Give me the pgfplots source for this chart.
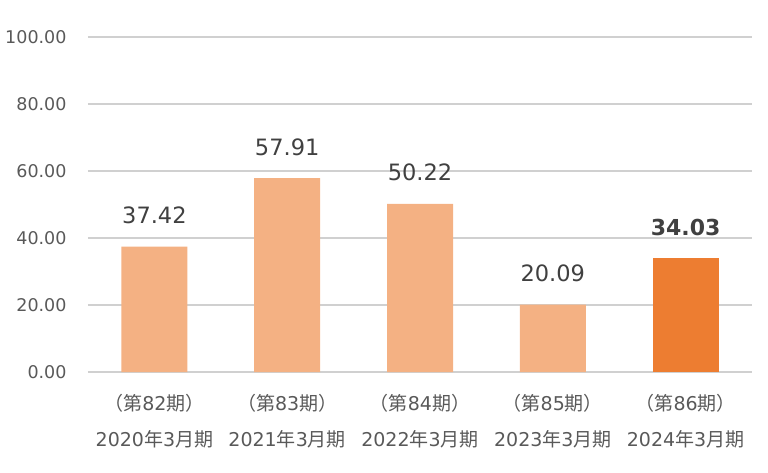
\documentclass[border=0pt]{standalone}
\usepackage{fontspec}
\setmainfont{DejaVu Sans}
\newfontfamily\cjk{Noto Sans CJK JP}
\usepackage{pgfplots}
\pgfplotsset{compat=1.18}
\definecolor{lightbar}{HTML}{F4B183}
\definecolor{darkbar}{HTML}{ED7D31}
\definecolor{gridc}{HTML}{D0D0D0}
\definecolor{txt}{HTML}{595959}
\definecolor{lbl}{HTML}{404040}
\begin{document}
\begin{tikzpicture}
\path[use as bounding box] (-88bp,-101bp) rectangle (680bp,372bp);
\begin{axis}[
  scale only axis,
  width=664bp, height=335bp,
  xmin=-0.5, xmax=4.5,
  ymin=0, ymax=100,
  ytick={0,20,40,60,80,100},
  yticklabels={0.00,20.00,40.00,60.00,80.00,100.00},
  xtick={0,1,2,3,4},
  xticklabels={
    {{\cjk （第}82{\cjk 期）}\\[13bp]2020{\cjk 年}3{\cjk 月期}},
    {{\cjk （第}83{\cjk 期）}\\[13bp]2021{\cjk 年}3{\cjk 月期}},
    {{\cjk （第}84{\cjk 期）}\\[13bp]2022{\cjk 年}3{\cjk 月期}},
    {{\cjk （第}85{\cjk 期）}\\[13bp]2023{\cjk 年}3{\cjk 月期}},
    {{\cjk （第}86{\cjk 期）}\\[13bp]2024{\cjk 年}3{\cjk 月期}}},
  xticklabel style={align=center, font=\fontsize{19bp}{23bp}\selectfont, text=txt, anchor=north, yshift=-14bp},
  yticklabel style={font=\fontsize{17.5bp}{20bp}\selectfont, text=txt, xshift=-18bp},
  axis line style={draw=none},
  tick style={draw=none},
  ymajorgrids,
  major grid style={color=gridc, line width=1.5bp},
  /pgf/number format/assume math mode=true,
  ybar, bar width=66bp, bar shift=0pt,
  nodes near coords={\pgfmathprintnumber[fixed,fixed zerofill,precision=2]{\pgfplotspointmeta}},
  nodes near coords style={font=\fontsize{22.5bp}{26bp}\selectfont, text=lbl, yshift=19bp},
  clip=false,
]
\addplot[fill=lightbar, draw=none] coordinates {(0,37.42) (1,57.91) (2,50.22) (3,20.09)};
\addplot[fill=darkbar, draw=none, nodes near coords style={font=\fontsize{22bp}{26bp}\selectfont\bfseries}] coordinates {(4,34.03)};
\end{axis}
\end{tikzpicture}
\end{document}
